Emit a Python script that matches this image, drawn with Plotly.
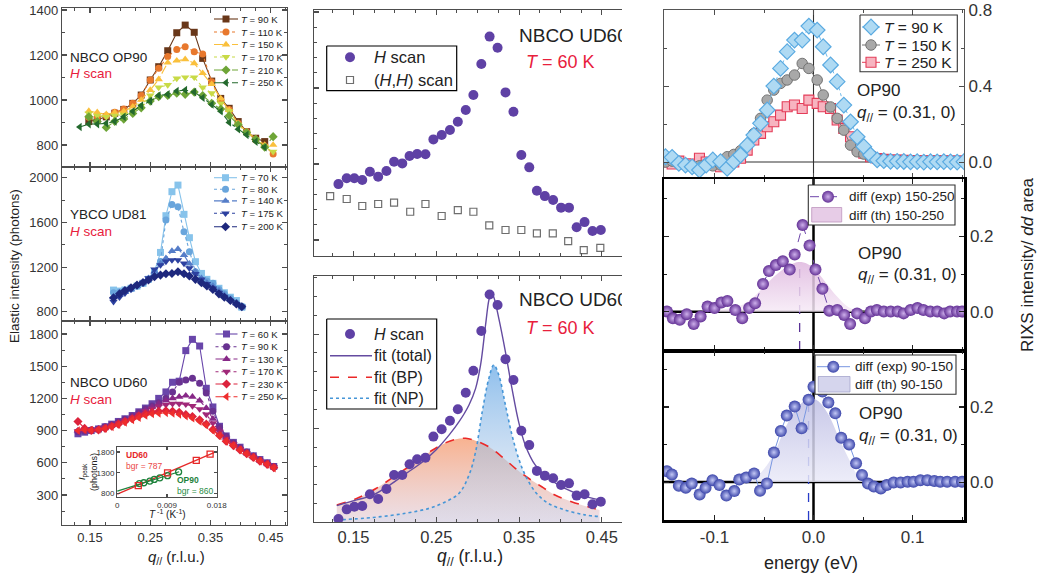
import plotly.graph_objects as go

W, H = 1040, 581
FONT = "Liberation Sans, Arial, Helvetica, sans-serif"
TXT = "#222222"
RED_TXT = "#E8203C"
AXC = "#4d4d4d"

# ================= DATA =================
# --- left top: NBCO OP90, H scan ---
q_op90 = [0.133, 0.148, 0.162, 0.177, 0.191, 0.206, 0.221, 0.235, 0.250, 0.264, 0.279, 0.294,
          0.308, 0.323, 0.337, 0.352, 0.367, 0.381, 0.396, 0.410, 0.425, 0.440, 0.454]
op90_T90 = [None, 904, 912, 925, 941, 958, 985, 1022, 1089, 1148, 1219, 1299, 1333, 1301, 1185, 1084, 1007, 963, 904, 859, 830, 815, None]
op90_T110 = [None, 923, 925, 930, 945, 960, 985, 1020, 1089, 1141, 1193, 1225, 1237, 1215, 1204, 1081, 1000, 958, 896, 859, 822, 795, 760]
op90_T150 = [None, 951, 945, 936, 944, 950, 970, 1000, 1044, 1092, 1166, 1175, 1181, 1163, 1119, 1070, 1007, 955, 895, 860, 830, 800, 800]
op90_T170 = [None, 940, 930, 925, 930, 935, 950, 975, 1020, 1056, 1067, 1096, 1101, 1101, 1056, 1030, 985, 950, 890, 855, 825, 790, 770]
op90_T210 = [None, 925, 904, 878, 905, 915, 940, 965, 995, 1015, 1020, 1030, 1025, 1035, 1020, 985, 960, 930, 890, 855, 825, 790, 837]
op90_T250 = [880, 893, 893, 896, 905, 925, 950, 975, 995, 1020, 1025, 1040, 1044, 1035, 1010, 980, 950, 900, 870, 845, 815, 790, None]
op90_labels = ["90", "110", "150", "170", "210", "250"]

# --- left middle: YBCO UD81, H scan ---
q_ud81 = [0.189, 0.199, 0.208, 0.218, 0.228, 0.238, 0.247, 0.257, 0.267, 0.276, 0.286, 0.296,
          0.306, 0.315, 0.325, 0.335, 0.344, 0.354, 0.364, 0.373, 0.383, 0.393, 0.402]
ud81_T70 = [994, 985, 995, 1010, 1030, 1055, 1090, 1160, 1331, 1660, 1875, 1934, 1672, 1463, 1248, 1143, 1090, 1054, 1010, 970, 930, 900, 840]
ud81_T80 = [970, 975, 990, 1005, 1030, 1055, 1090, 1150, 1250, 1621, 1761, 1740, 1516, 1337, 1158, 1084, 1075, 1054, 1000, 960, 920, 880, 850]
ud81_T140 = [930, 950, 975, 1000, 1030, 1060, 1100, 1160, 1230, 1278, 1343, 1361, 1307, 1230, 1160, 1100, 1060, 1030, 990, 950, 910, 875, 840]
ud81_T175 = [890, 930, 965, 1000, 1030, 1060, 1100, 1180, 1218, 1250, 1263, 1263, 1233, 1190, 1140, 1090, 1050, 1010, 970, 935, 900, 870, 845]
ud81_T200 = [925, 960, 990, 1015, 1039, 1062, 1084, 1114, 1128, 1140, 1143, 1158, 1140, 1120, 1090, 1060, 1030, 1000, 960, 930, 900, 870, 845]
ud81_labels = ["70", "80", "140", "175", "200"]

# --- left bottom: NBCO UD60, H scan ---
q_ud60 = [0.130, 0.141, 0.152, 0.164, 0.175, 0.186, 0.197, 0.208, 0.220, 0.231, 0.242, 0.253, 0.264, 0.276, 0.287,
          0.298, 0.309, 0.320, 0.332, 0.343, 0.354, 0.365, 0.376, 0.388, 0.399, 0.410, 0.421, 0.432, 0.444, 0.455]
ud60_T60 = [870, 885, 900, 915, 935, 960, 985, 1010, 1040, 1075, 1110, 1150, 1200, 1260, 1350, 1360, 1645, 1750, 1688, 1294, 1120, 940, 850, 790, 745, 700, 665, 630, 600, 565]
ud60_T90 = [890, 895, 905, 915, 935, 955, 980, 1005, 1035, 1065, 1100, 1130, 1160, 1200, 1260, 1350, 1371, 1387, 1340, 1250, 1080, 930, 845, 785, 740, 700, 660, 625, 595, 565]
ud60_T130 = [900, 900, 905, 915, 930, 950, 975, 1000, 1030, 1060, 1090, 1120, 1150, 1180, 1200, 1215, 1225, 1215, 1180, 1110, 1010, 910, 835, 780, 735, 695, 660, 625, 595, 565]
ud60_T170 = [895, 900, 905, 915, 930, 950, 970, 995, 1020, 1050, 1080, 1105, 1125, 1140, 1150, 1150, 1145, 1130, 1100, 1050, 970, 890, 825, 775, 730, 690, 655, 620, 590, 560]
ud60_T230 = [985, 920, 900, 905, 920, 940, 960, 985, 1010, 1035, 1055, 1070, 1080, 1085, 1080, 1070, 1050, 1030, 1000, 960, 910, 855, 800, 760, 720, 685, 650, 615, 585, 555]
ud60_T250 = [900, 905, 905, 910, 920, 935, 955, 975, 1000, 1020, 1040, 1055, 1060, 1065, 1060, 1050, 1035, 1015, 985, 950, 900, 850, 800, 760, 720, 685, 650, 615, 585, 550]
ud60_labels = ["60", "90", "130", "170", "230", "250"]

# --- inset: I_peak vs 1/T ---
inv_T_ud60 = [0.0038, 0.0091, 0.0143, 0.0168]
ipeak_ud60 = [990, 1300, 1600, 1750]
fit_x_ud60 = [0.0, 0.0175]
fit_y_ud60 = [787, 1785]
inv_T_op90 = [0.0040, 0.0048, 0.0059, 0.0067, 0.0077, 0.0091, 0.0111]
ipeak_op90 = [1040, 1060, 1100, 1140, 1180, 1230, 1320]
fit_x_op90 = [0.0, 0.0112]
fit_y_op90 = [860, 1325]

# --- middle: NBCO UD60, T = 60 K ---
q_hscan = [0.1318, 0.1418, 0.1510, 0.1606, 0.1698, 0.1798, 0.1898, 0.1990, 0.2089, 0.2177, 0.2269, 0.2369,
           0.2465, 0.2565, 0.2665, 0.2760, 0.2856, 0.2948, 0.3044, 0.3144, 0.3240, 0.3336, 0.3432, 0.3527,
           0.3623, 0.3715, 0.3811, 0.3911, 0.4007, 0.4103, 0.4195, 0.4291, 0.4387, 0.4487]
hscan_top = [868, 906, 906, 895, 949, 917, 954, 1015, 1004, 1053, 1066, 1064, 1162, 1191, 1224, 1278, 1355,
             1454, 1658, 1838, 1765, 1471, 1344, 1059, 978, 824, 789, 763, 713, 713, 584, 618, 559, 566]
q_hhscan = [0.1218, 0.1418, 0.1606, 0.1798, 0.1990, 0.2185, 0.2369, 0.2565, 0.2760, 0.2948, 0.3140, 0.3336,
            0.3527, 0.3715, 0.3907, 0.4093, 0.4281, 0.4481]
hhscan_top = [789, 770, 724, 737, 746, 686, 737, 658, 697, 686, 597, 566, 566, 544, 544, 493, 434, 449]

hscan_bot = [519, 570, 584, 588, 650, 625, 678, 752, 752, 809, 836, 844, 956, 995, 1040, 1101, 1189, 1305,
             1516, 1710, 1654, 1367, 1256, 987, 911, 774, 749, 735, 699, 708, 643, 650, 597, 611]
q_fit_total = [0.1298, 0.1538, 0.1737, 0.1937, 0.2137, 0.2337, 0.2496, 0.2656, 0.2775, 0.2895, 0.2975, 0.3035,
               0.3095, 0.3135, 0.3163, 0.3195, 0.3255, 0.3335, 0.3414, 0.3494, 0.3574, 0.3694, 0.3853, 0.4053,
               0.4252, 0.4472]
fit_total = [590, 620, 646, 699, 761, 823, 885, 965, 1035, 1124, 1212, 1336, 1548, 1680, 1721, 1695, 1583, 1406,
             1212, 1035, 912, 806, 735, 682, 646, 620]
q_fit_bp = [0.1298, 0.1538, 0.1777, 0.2017, 0.2257, 0.2456, 0.2616, 0.2735, 0.2855, 0.2975, 0.3135, 0.3294,
            0.3454, 0.3614, 0.3774, 0.3933, 0.4133, 0.4332, 0.4472]
fit_bp = [593, 628, 682, 752, 823, 885, 924, 942, 947, 934, 902, 849, 788, 735, 690, 646, 611, 584, 567]
q_fit_np = [0.1298, 0.1737, 0.2137, 0.2416, 0.2616, 0.2775, 0.2895, 0.2975, 0.3055, 0.3135, 0.3195, 0.3255,
            0.3335, 0.3414, 0.3494, 0.3574, 0.3694, 0.3853, 0.4053, 0.4292, 0.4472]
fit_np = [514, 527, 550, 576, 611, 655, 752, 876, 1088, 1265, 1336, 1283, 1124, 965, 841, 752, 664, 602, 567, 541, 532]

# --- right top: RIXS, OP90, q = (0.31, 0) ---
e_op90 = [-0.1495, -0.1428, -0.1360, -0.1293, -0.1226, -0.1152, -0.1084, -0.1017, -0.0939, -0.0872, -0.0805,
          -0.0737, -0.0670, -0.0603, -0.0535, -0.0468, -0.0401, -0.0333, -0.0266, -0.0192, -0.0114, -0.0047,
          0.0037, 0.0098, 0.0172, 0.0239, 0.0306, 0.0374, 0.0441, 0.0508, 0.0576, 0.0643, 0.0710, 0.0778,
          0.0845, 0.0912, 0.0980, 0.1047, 0.1114, 0.1182, 0.1249, 0.1316, 0.1384, 0.1451, 0.1519]
rixs_T90 = [0.028, 0.025, -0.007, -0.016, -0.025, -0.042, -0.016, 0.011, 0.002, -0.033, 0.002, 0.037, 0.089,
            0.142, 0.204, 0.274, 0.400, 0.493, 0.581, 0.642, 0.642, 0.716, 0.695, 0.607, 0.511, 0.423, 0.300,
            0.212, 0.133, 0.081, 0.037, 0.011, 0.007, 0.004, 0.004, 0.003, 0.001, 0.002, 0.0, 0.002, 0.001,
            0.002, 0.001, 0.0, 0.002]
rixs_T150 = [0.0, 0.005, -0.01, -0.015, -0.02, -0.02, -0.01, -0.02, -0.015, 0.028, 0.04, 0.06, 0.09, 0.15,
             0.23, 0.326, 0.379, 0.414, 0.432, 0.458, 0.519, 0.493, 0.432, 0.353, 0.29, 0.23, 0.168, 0.089,
             0.054, 0.042, 0.028, 0.012, 0.008, 0.006, 0.005, 0.004, 0.004, 0.003, 0.003, 0.003, 0.002,
             0.002, 0.002, 0.002, 0.002]
rixs_T250 = [0.0, -0.01, 0.005, -0.01, -0.01, 0.02, 0.0, -0.01, -0.025, -0.01, 0.0, 0.02, 0.063, 0.116, 0.151,
             0.186, 0.212, 0.247, 0.291, 0.300, 0.282, 0.326, 0.309, 0.291, 0.282, 0.221, 0.177, 0.133, 0.081,
             0.046, 0.028, 0.019, 0.014, 0.01, 0.01, 0.009, 0.008, 0.008, 0.007, 0.007, 0.006, 0.006, 0.005,
             0.005, 0.005]

# --- right middle: diff 150-250 ---
e_diff1 = [-0.148, -0.142, -0.135, -0.128, -0.121, -0.114, -0.107, -0.100, -0.093, -0.087, -0.079, -0.072,
           -0.065, -0.059, -0.051, -0.045, -0.038, -0.031, -0.024, -0.019, -0.011, -0.004, 0.002, 0.009,
           0.016, 0.024, 0.031, 0.037, 0.044, 0.052, 0.058, 0.064, 0.071, 0.078, 0.085, 0.091, 0.098, 0.105,
           0.111, 0.118, 0.125, 0.132, 0.138, 0.145, 0.150]
diff_exp1 = [0.001, -0.017, -0.021, -0.006, -0.032, -0.012, 0.014, 0.010, 0.025, 0.029, 0.005, -0.017, 0.010,
             0.023, 0.074, 0.108, 0.124, 0.134, 0.112, 0.152, 0.230, 0.176, 0.112, 0.061, 0.003, 0.005, -0.008,
             -0.032, -0.004, -0.017, 0.001, 0.005, 0.001, 0.001, 0.001, -0.004, 0.005, 0.010, 0.005, 0.001,
             0.001, -0.004, 0.001, 0.001, 0.001]
e_th1 = [-0.114, -0.101, -0.087, -0.074, -0.060, -0.047, -0.033, -0.023, -0.015, -0.006, 0.004, 0.014, 0.024,
         0.034, 0.044, 0.058]
diff_th1 = [0.0, 0.003, 0.008, 0.016, 0.040, 0.075, 0.108, 0.125, 0.132, 0.127, 0.105, 0.072, 0.040, 0.015,
            0.004, 0.0]
peak1_e, peak1_top = -0.014, 0.133

# --- right bottom: diff 90-150 ---
e_diff2 = [-0.148, -0.143, -0.136, -0.129, -0.123, -0.115, -0.109, -0.102, -0.095, -0.088, -0.080, -0.075,
           -0.068, -0.060, -0.054, -0.047, -0.040, -0.033, -0.027, -0.019, -0.012, -0.005, 0.000, 0.009,
           0.015, 0.022, 0.028, 0.036, 0.043, 0.049, 0.055, 0.061, 0.068, 0.074, 0.081, 0.088, 0.095, 0.101,
           0.108, 0.115, 0.122, 0.128, 0.135, 0.143, 0.150]
diff_exp2 = [0.029, 0.020, -0.010, -0.015, -0.004, -0.033, -0.015, 0.005, -0.008, -0.036, -0.024, 0.007, 0.012,
             0.023, -0.023, -0.004, 0.079, 0.136, 0.177, 0.201, 0.143, 0.219, 0.254, 0.241, 0.212, 0.183,
             0.118, 0.100, 0.050, 0.019, -0.004, -0.012, -0.017, -0.008, -0.001, -0.001, 0.001, 0.001, 0.005,
             0.005, 0.003, 0.001, 0.001, 0.001, 0.001]
e_th2 = [-0.074, -0.060, -0.050, -0.040, -0.030, -0.020, -0.010, -0.003, 0.005, 0.015, 0.027, 0.037, 0.047,
         0.058]
diff_th2 = [0.0, 0.010, 0.035, 0.075, 0.135, 0.185, 0.215, 0.223, 0.215, 0.180, 0.110, 0.055, 0.010, 0.0]
peak2_e, peak2_top = -0.005, 0.215

# ================= FIGURE =================
fig = go.Figure()
annotations = []
shapes = []


def ax_ids(n):
    return ("x", "y") if n == 1 else ("x%d" % n, "y%d" % n)


def add_sc(n, **kw):
    xa, ya = ax_ids(n)
    kw.setdefault("showlegend", False)
    kw.setdefault("hoverinfo", "skip")
    fig.add_trace(go.Scatter(xaxis=xa, yaxis=ya, **kw))


def text(s, x, y, size, color=TXT, xanchor="left", angle=0):
    annotations.append(dict(text=s, x=x, y=y, xref="x10", yref="y10", showarrow=False,
                            xanchor=xanchor, yanchor="middle", textangle=angle,
                            font=dict(family=FONT, size=size, color=color)))


def dom_x(a, b):
    return [a / W, b / W]


def dom_y(top, bot):
    return [1 - bot / H, 1 - top / H]


# ---- left column series ----
op90_style = [("rgb(105,55,25)", "square", "solid"), ("rgb(232,120,45)", "circle", "dot"),
              ("rgb(250,192,60)", "triangle-up", "dashdot"), ("rgb(200,218,70)", "triangle-down", "dot"),
              ("rgb(110,165,55)", "diamond", "dash"), ("rgb(35,105,45)", "triangle-left", "dashdot")]
ud81_style = [("rgb(135,195,235)", "square", "solid"), ("rgb(105,165,220)", "circle", "dot"),
              ("rgb(85,125,200)", "triangle-up", "dashdot"), ("rgb(45,65,160)", "triangle-down", "dot"),
              ("rgb(30,40,125)", "diamond", "dash")]
ud60_style = [("rgb(105,70,170)", "square", "solid"), ("rgb(105,50,145)", "circle", "dot"),
              ("rgb(135,40,135)", "triangle-up", "dashdot"), ("rgb(160,40,120)", "triangle-down", "dot"),
              ("rgb(220,35,60)", "diamond", "dash"), ("rgb(238,45,45)", "triangle-left", "dashdot")]

for n, qq, series, styles in [(1, q_op90, [op90_T90, op90_T110, op90_T150, op90_T170, op90_T210, op90_T250], op90_style),
                              (2, q_ud81, [ud81_T70, ud81_T80, ud81_T140, ud81_T175, ud81_T200], ud81_style),
                              (3, q_ud60, [ud60_T60, ud60_T90, ud60_T130, ud60_T170, ud60_T230, ud60_T250], ud60_style)]:
    for vals, (col, sym, dash) in zip(series, styles):
        add_sc(n, x=qq, y=vals, mode="lines+markers",
               line=dict(color=col, width=1.1, dash=dash),
               marker=dict(symbol=sym, color=col, size=7.5 if "triangle" in sym else 7))

# ---- inset ----
add_sc(4, x=fit_x_ud60, y=fit_y_ud60, mode="lines", line=dict(color="rgb(230,40,40)", width=1.3))
add_sc(4, x=fit_x_op90, y=fit_y_op90, mode="lines", line=dict(color="rgb(30,130,60)", width=1.3))
add_sc(4, x=inv_T_op90, y=ipeak_op90, mode="markers",
       marker=dict(symbol="circle-open", color="rgb(30,130,60)", size=6, line=dict(width=1.3)))
add_sc(4, x=inv_T_ud60, y=ipeak_ud60, mode="markers",
       marker=dict(symbol="square-open", color="rgb(230,40,40)", size=6, line=dict(width=1.3)))

# ---- middle top ----
PURPLE = "rgb(95,65,165)"
add_sc(5, x=q_hhscan, y=hhscan_top, mode="markers",
       marker=dict(symbol="square-open", color="rgb(110,110,110)", size=7, line=dict(width=1.2)))
add_sc(5, x=q_hscan, y=hscan_top, mode="markers", marker=dict(symbol="circle", color=PURPLE, size=10))

# ---- middle bottom ----
add_sc(6, x=q_fit_bp, y=fit_bp, mode="lines", line=dict(width=0, shape="spline"), fill="tozeroy",
       fillgradient=dict(type="vertical", start=503, stop=947,
                         colorscale=[[0, "rgba(228,210,222,0.7)"], [1, "rgba(247,165,125,0.85)"]]))
add_sc(6, x=q_fit_np, y=fit_np, mode="lines", line=dict(width=0, shape="spline"), fill="tozeroy",
       fillgradient=dict(type="vertical", start=503, stop=1336,
                         colorscale=[[0, "rgba(205,215,235,0.35)"], [1, "rgba(105,170,230,0.75)"]]))
add_sc(6, x=q_fit_bp, y=fit_bp, mode="lines", line=dict(color="rgb(235,40,40)", width=1.6, dash="dash", shape="spline"))
add_sc(6, x=q_fit_np, y=fit_np, mode="lines", line=dict(color="rgb(70,150,215)", width=1.6, dash="dot", shape="spline"))
add_sc(6, x=q_fit_total, y=fit_total, mode="lines", line=dict(color="rgb(100,75,160)", width=1.4, shape="spline"))
add_sc(6, x=q_hscan, y=hscan_bot, mode="markers", marker=dict(symbol="circle", color=PURPLE, size=10))

# ---- right top ----
ST90 = dict(symbol="diamond", color="rgb(175,218,243)", size=12, line=dict(color="rgb(90,170,225)", width=1.2))
ST150 = dict(symbol="circle", color="rgb(168,168,168)", size=10.5, line=dict(color="rgb(115,115,115)", width=1))
ST250 = dict(symbol="square", color="rgb(247,180,192)", size=10, line=dict(color="rgb(228,60,88)", width=1.1))
add_sc(7, x=e_op90, y=rixs_T250, mode="lines+markers", line=dict(color="rgb(228,60,88)", width=1), marker=ST250)
add_sc(7, x=e_op90, y=rixs_T150, mode="lines+markers", line=dict(color="rgb(115,115,115)", width=1), marker=ST150)
add_sc(7, x=e_op90, y=rixs_T90, mode="lines+markers", line=dict(color="rgb(110,185,235)", width=1, dash="dashdot"), marker=ST90)

# ---- right middle ----
SPH1 = dict(symbol="circle", size=12, color="rgb(100,50,150)",
            gradient=dict(type="radial", color="rgb(205,175,235)"), line=dict(width=0))
SPH2 = dict(symbol="circle", size=12, color="rgb(60,70,170)",
            gradient=dict(type="radial", color="rgb(195,200,245)"), line=dict(width=0))
TH1_FILL = dict(type="vertical", start=0, stop=0.135,
                colorscale=[[0, "rgba(246,234,246,0.85)"], [1, "rgba(222,182,222,0.85)"]])
TH2_FILL = dict(type="vertical", start=0, stop=0.225,
                colorscale=[[0, "rgba(234,234,248,0.85)"], [1, "rgba(190,190,228,0.85)"]])
add_sc(8, x=e_th1, y=diff_th1, mode="lines", line=dict(width=0, shape="spline"), fill="tozeroy", fillgradient=TH1_FILL)
add_sc(8, x=e_diff1, y=diff_exp1, mode="lines+markers", line=dict(color="rgb(110,70,170)", width=1, dash="dash"), marker=SPH1)

# ---- right bottom ----
add_sc(9, x=e_th2, y=diff_th2, mode="lines", line=dict(width=0, shape="spline"), fill="tozeroy", fillgradient=TH2_FILL)
add_sc(9, x=e_diff2, y=diff_exp2, mode="lines+markers", line=dict(color="rgb(120,150,225)", width=1), marker=SPH2)

# zero lines / dashed peak markers (right column)
for n, lw, col in [(7, 1.1, "#333333"), (8, 2.5, "black"), (9, 2.5, "black")]:
    xa, ya = ax_ids(n)
    shapes.append(dict(type="line", xref=xa + " domain", yref=ya, x0=0, x1=1, y0=0, y1=0,
                       line=dict(color=col, width=lw), layer="below"))
    shapes.append(dict(type="line", xref=xa, yref=ya + " domain", x0=0, x1=0, y0=0, y1=1,
                       line=dict(color=col, width=lw), layer="below"))
shapes.append(dict(type="line", xref="x8", yref="y8", x0=peak1_e, x1=peak1_e, y0=-0.101, y1=peak1_top,
                   line=dict(color="rgb(90,50,150)", width=1.3, dash="dash"), layer="below"))
shapes.append(dict(type="line", xref="x9", yref="y9", x0=peak2_e, x1=peak2_e, y0=-0.101, y1=peak2_top,
                   line=dict(color="rgb(40,60,200)", width=1.3, dash="dash"), layer="below"))


# ================= MANUAL LEGENDS (overlay in pixel coordinates) =================
def leg_box(x0, y0, x1, y1, col="black", lw=1.2):
    add_sc(10, x=[x0, x1, x1, x0, x0], y=[y0, y0, y1, y1, y0], mode="lines", fill="toself",
           fillcolor="white", line=dict(color=col, width=lw))


def leg_line(x0, x1, y, col, dash="solid", lw=1.2):
    add_sc(10, x=[x0, x1], y=[y, y], mode="lines", line=dict(color=col, width=lw, dash=dash))


def leg_marker(x, y, marker):
    add_sc(10, x=[x], y=[y], mode="markers", marker=marker)


def leg_swatch(x0, y0, x1, y1, fillcol, edge):
    add_sc(10, x=[x0, x1, x1, x0, x0], y=[y0, y0, y1, y1, y0], mode="lines", fill="toself",
           fillcolor=fillcol, line=dict(color=edge, width=1))


# left legends
for rows, labels, styles, (lx0, lx1, lxm, tx) in [
        ([19, 32, 44.5, 57, 70, 82.7], op90_labels, op90_style, (214, 238, 226, 239)),
        ([177.7, 189.2, 200.9, 213.3, 226.7], ud81_labels, ud81_style, (214, 237, 225.5, 238.5)),
        ([334, 346.7, 359, 371.7, 384, 396.7], ud60_labels, ud60_style, (215.5, 237.5, 226.5, 239))]:
    for y, lab, (col, sym, dash) in zip(rows, labels, styles):
        leg_line(lx0, lx1, y, col, dash, 1.1)
        leg_marker(lxm, y, dict(symbol=sym, color=col, size=7.5 if "triangle" in sym else 7))
        text("<i>T</i> = %s K" % lab, tx, y, 9.6)

# middle top legend
leg_box(326.7, 46, 456.7, 90.7)
leg_marker(350, 57.3, dict(symbol="circle", color=PURPLE, size=10))
leg_marker(350, 80, dict(symbol="square-open", color="rgb(110,110,110)", size=7, line=dict(width=1.2)))
text("<i>H</i> scan", 371.5, 57.3, 16.5)
text("(<i>H</i>,<i>H</i>) scan", 371.5, 80, 16.5)

# middle bottom legend
leg_box(326.7, 319, 436.7, 409)
leg_marker(350, 334, dict(symbol="circle", color=PURPLE, size=10))
leg_line(330, 372, 355.7, "rgb(100,75,160)", "solid", 1.4)
leg_line(330, 372, 377.3, "rgb(235,40,40)", "dash", 1.6)
leg_line(330, 372, 398.3, "rgb(70,150,215)", "dot", 1.6)
text("<i>H</i> scan", 372, 334, 16)
text("fit (total)", 372, 355.7, 16)
text("fit (BP)", 372, 377.3, 16)
text("fit (NP)", 372, 398.3, 16)

# right top legend
leg_box(860, 15, 957.3, 71.7, "#333333", 1.1)
for y, lab, mk, lc in [(27, "90", ST90, "rgb(110,185,235)"), (45, "150", ST150, "rgb(115,115,115)"),
                       (62.3, "250", ST250, "rgb(228,60,88)")]:
    leg_line(862, 880, y, lc, "solid", 1)
    leg_marker(871, y, mk)
    text("<i>T</i> = %s K" % lab, 881.5, y, 15.5)

# right middle legend
leg_box(808.3, 185, 955, 225, "#333333", 1.1)
leg_line(810, 842, 196.7, "rgb(110,70,170)", "dash", 1)
leg_marker(828, 196.7, SPH1)
leg_swatch(811.7, 207.5, 841.7, 222, "rgba(228,198,228,0.9)", "rgba(190,150,190,0.8)")
text("diff (exp) 150-250", 846.5, 196.7, 13.5)
text("diff (th) 150-250", 846.5, 215, 13.5)

# right bottom legend
leg_box(815, 355, 956, 394.3, "#333333", 1.1)
leg_line(817, 850, 366.7, "rgb(120,150,225)", "solid", 1)
leg_marker(833.3, 366.7, SPH2)
leg_swatch(818.3, 376.5, 850, 392, "rgba(208,208,235,0.9)", "rgba(165,165,205,0.8)")
text("diff (exp) 90-150", 853, 366.7, 13.5)
text("diff (th) 90-150", 853, 384.3, 13.5)

# ================= TEXT LABELS =================
text("NBCO OP90", 68, 57, 13.5)
text("<i>H</i> scan", 68, 73.5, 13.5, RED_TXT)
text("YBCO UD81", 68, 214, 13.5)
text("<i>H</i> scan", 68, 231, 13.5, RED_TXT)
text("NBCO UD60", 68, 382, 13.5)
text("<i>H</i> scan", 68, 399, 13.5, RED_TXT)

text("<b>UD60</b>", 124, 455, 8.5, "rgb(230,40,40)")
text("bgr = 787", 124, 466, 8.5, "rgb(235,70,70)")
text("<b>OP90</b>", 174.5, 479.5, 8.5, "rgb(30,130,60)")
text("bgr = 860", 174.5, 490.7, 8.5, "rgb(40,140,70)")
text("<i>T</i><sup> -1</sup> (K<sup>-1</sup>)", 167, 514, 10, TXT, "center")
text("<i>I</i><sub>peak</sub><br>(photons)", 88, 472, 9, TXT, "center", -90)

text("<i>T</i> = 60 K", 523.5, 61.7, 18, RED_TXT)
text("<i>T</i> = 60 K", 523.5, 328, 18, RED_TXT)

text("OP90", 855, 90, 17)
text("<i>q</i><sub>//</sub> = (0.31, 0)", 855, 114, 17)
text("OP90", 856, 253, 17)
text("<i>q</i><sub>//</sub> = (0.31, 0)", 856, 276, 17)
text("OP90", 857, 413, 17)
text("<i>q</i><sub>//</sub> = (0.31, 0)", 857, 437, 17)

text("Elastic intensity (photons)", 14, 266, 13.5, TXT, "center", -90)
text("<i>q</i><sub>//</sub> (r.l.u.)", 176, 557, 15, TXT, "center")
text("<i>q</i><sub>//</sub> (r.l.u.)", 470, 557, 17.5, TXT, "center")
text("energy (eV)", 811, 563, 18, TXT, "center")
text("RIXS intensity/ <i>dd</i> area", 1027, 265, 17, TXT, "center", -90)

# ================= AXES =================
MX_RANGE = [0.1023, 0.4743]
Y5_RANGE = [395, 2013]
Y6_RANGE = [503, 1808]


def px_to_data(px, a, b, rng):
    return rng[0] + (px - a) / (b - a) * (rng[1] - rng[0])


# panel titles inside the middle panels (text clipped by the plot area, as in the original)
add_sc(5, x=[px_to_data(519, 314, 622, MX_RANGE)], y=[px_to_data(256 - 37, 0, 246, Y5_RANGE)],
       mode="text", text=["NBCO UD60"], textposition="middle right",
       textfont=dict(family=FONT, size=19, color=TXT))
add_sc(6, x=[px_to_data(519, 314, 622, MX_RANGE)], y=[px_to_data(522 - 301.7, 0, 246, Y6_RANGE)],
       mode="text", text=["NBCO UD60"], textposition="middle right",
       textfont=dict(family=FONT, size=19, color=TXT))


def mnr(dtick, tick0, col=AXC, ln=3):
    return dict(ticks="inside", ticklen=ln, tickwidth=1, tickcolor=col, dtick=dtick, tick0=tick0, showgrid=False)


def base_axis(**kw):
    d = dict(showgrid=False, zeroline=False, showline=True, linecolor=AXC, linewidth=1.2,
             ticks="inside", ticklen=5, tickwidth=1.1, tickcolor=AXC, mirror="ticks", automargin=False,
             tickfont=dict(family=FONT, size=13, color="#333333"), fixedrange=True)
    d.update(kw)
    return d


L = {}
QL = [0.1035, 0.477]
L["xaxis"] = base_axis(domain=dom_x(62, 287), range=QL, anchor="y", tick0=0.15, dtick=0.1,
                       showticklabels=False, minor=mnr(0.025, 0.15))
L["yaxis"] = base_axis(domain=dom_y(8, 167), range=[702, 1409], anchor="x", tick0=800, dtick=200,
                       minor=mnr(100, 800))
L["xaxis2"] = base_axis(domain=dom_x(62, 287), range=QL, anchor="y2", tick0=0.15, dtick=0.1,
                        showticklabels=False, minor=mnr(0.025, 0.15))
L["yaxis2"] = base_axis(domain=dom_y(167, 321), range=[717, 2096], anchor="x2", tick0=800, dtick=400,
                        minor=mnr(200, 800))
L["xaxis3"] = base_axis(domain=dom_x(62, 287), range=QL, anchor="y3", tick0=0.15, dtick=0.1,
                        tickformat=".2f", minor=mnr(0.025, 0.15))
L["yaxis3"] = base_axis(domain=dom_y(321, 525), range=[20, 1921], anchor="x3", tick0=300, dtick=300,
                        minor=mnr(150, 300))
L["xaxis4"] = base_axis(domain=dom_x(117, 217), range=[-0.00005, 0.01805], anchor="y4",
                        tickvals=[0, 0.009, 0.018], ticktext=["0", "0.009", "0.018"], ticklen=3,
                        linewidth=1, tickfont=dict(family=FONT, size=8, color="#333333"))
L["yaxis4"] = base_axis(domain=dom_y(447, 497), range=[718, 1920], anchor="x4",
                        tickvals=[800, 1300, 1800], ticklen=3, linewidth=1,
                        tickfont=dict(family=FONT, size=8, color="#333333"))
L["xaxis5"] = base_axis(domain=dom_x(314, 622), range=MX_RANGE, anchor="y5", tick0=0.15, dtick=0.1,
                        showticklabels=False, minor=mnr(0.025, 0.15))
L["yaxis5"] = base_axis(domain=dom_y(10, 256), range=Y5_RANGE, anchor="x5", tick0=500, dtick=500,
                        showticklabels=False, mirror=False, minor=mnr(100, 500))
L["xaxis6"] = base_axis(domain=dom_x(314, 622), range=MX_RANGE, anchor="y6", tick0=0.15, dtick=0.1,
                        tickformat=".2f", tickfont=dict(family=FONT, size=16.5, color="#333333"),
                        minor=mnr(0.025, 0.15))
L["yaxis6"] = base_axis(domain=dom_y(276, 522), range=Y6_RANGE, anchor="x6", tick0=1000, dtick=500,
                        showticklabels=False, mirror=False, minor=mnr(100, 500))
EX = [-0.151, 0.152]
RF = dict(family=FONT, size=17, color="#333333")
L["xaxis7"] = base_axis(domain=dom_x(664, 964), range=EX, anchor="y7", tick0=0, dtick=0.1,
                        showticklabels=False, linecolor="#555555", minor=mnr(0.05, 0))
L["yaxis7"] = base_axis(domain=dom_y(10, 178), range=[-0.084, 0.8005], anchor="x7", side="right",
                        tickvals=[0, 0.4, 0.8], ticktext=["0.0", "0.4", "0.8"], tickfont=RF,
                        linecolor="#555555", minor=mnr(0.2, 0))
L["xaxis8"] = base_axis(domain=dom_x(664, 964), range=EX, anchor="y8", tick0=0, dtick=0.1,
                        showticklabels=False, linecolor="black", linewidth=2.5, tickcolor="#222222",
                        minor=mnr(0.05, 0, "#222222"))
L["yaxis8"] = base_axis(domain=dom_y(179, 350), range=[-0.101, 0.352], anchor="x8", side="right",
                        tickvals=[0, 0.2], ticktext=["0.0", "0.2"], tickfont=RF, linecolor="black",
                        linewidth=2.5, tickcolor="#222222", minor=mnr(0.1, 0, "#222222"))
L["xaxis9"] = base_axis(domain=dom_x(664, 964), range=EX, anchor="y9", tickvals=[-0.1, 0, 0.1],
                        ticktext=["-0.1", "0.0", "0.1"], tickfont=RF, linecolor="black", linewidth=2.5,
                        tickcolor="#222222", minor=mnr(0.05, 0, "#222222"))
L["yaxis9"] = base_axis(domain=dom_y(351, 520), range=[-0.101, 0.349], anchor="x9", side="right",
                        tickvals=[0, 0.2], ticktext=["0.0", "0.2"], tickfont=RF, linecolor="black",
                        linewidth=2.5, tickcolor="#222222", minor=mnr(0.1, 0, "#222222"))
L["xaxis10"] = dict(domain=[0, 1], range=[0, W], anchor="y10", visible=False, fixedrange=True)
L["yaxis10"] = dict(domain=[0, 1], range=[H, 0], anchor="x10", visible=False, fixedrange=True)

fig.update_layout(**L)
fig.update_layout(width=W, height=H, autosize=False,
                  margin=dict(l=0, r=0, t=0, b=0, pad=0, autoexpand=False), paper_bgcolor="white",
                  plot_bgcolor="rgba(0,0,0,0)", showlegend=False, annotations=annotations, shapes=shapes,
                  font=dict(family=FONT, color=TXT))
fig.write_html("out.html", config={"staticPlot": True},
               post_script="document.body.style.margin='0px';document.body.style.padding='0px';")
